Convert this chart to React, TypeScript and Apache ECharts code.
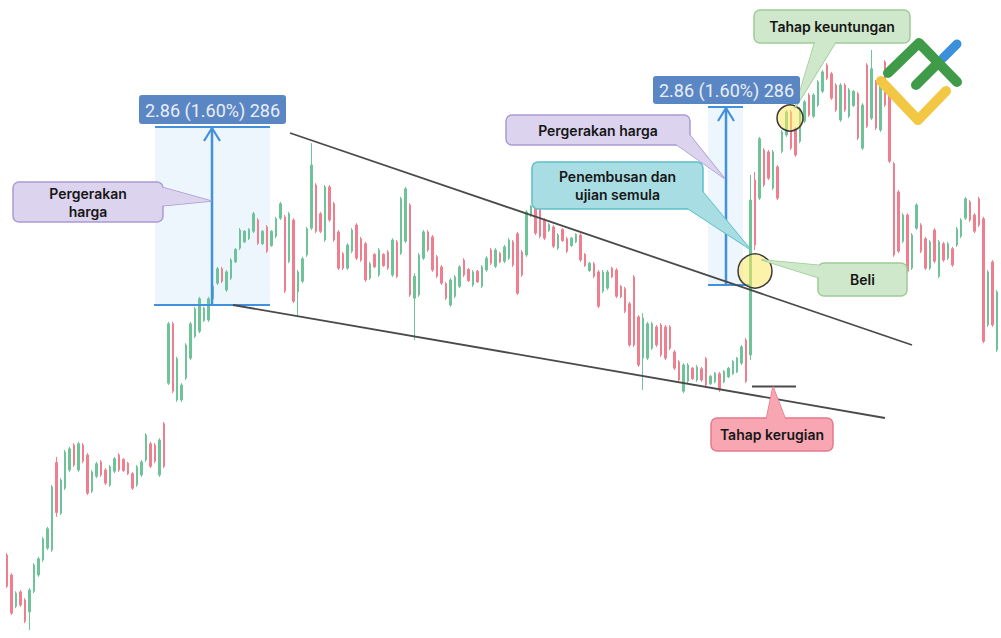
import React, { useEffect, useRef } from "react";
import * as echarts from "echarts";

// [open, close, low, high]
const seg1 = [
  [175.12,174.62,174.59,175.15],[174.80,174.19,174.16,174.83],[174.30,174.51,174.27,174.54],[174.53,174.32,174.29,174.56],
  [174.40,174.06,174.03,174.43],[174.21,174.56,173.92,174.59],[174.54,174.96,174.51,174.99],[174.80,175.06,174.77,175.09],
  [175.04,175.38,175.01,175.41],[175.23,175.54,175.20,175.57],[175.20,176.21,175.17,176.24],[176.60,175.80,175.73,176.69],
  [175.79,176.32,175.76,176.35],[176.19,176.77,176.16,176.80],[176.48,176.82,176.45,176.85],[176.88,176.56,176.53,176.91],
  [176.48,176.90,176.45,176.93],[176.88,176.62,176.59,176.91],[176.72,176.11,176.08,176.75],[176.14,176.45,176.11,176.48],
  [176.38,176.58,176.35,176.61],[176.61,176.40,176.37,176.64],[176.48,176.27,176.24,176.51],[176.24,176.53,176.21,176.56],
  [176.46,176.66,176.43,176.69],[176.72,176.48,176.45,176.75],[176.65,176.47,176.45,176.67],[176.59,176.42,176.40,176.61],
  [176.42,176.19,176.16,176.45],[176.24,176.53,176.21,176.56],[176.40,176.61,176.37,176.64],[176.64,177.04,176.61,177.07],
  [176.90,176.54,176.51,176.93],[176.88,176.62,176.59,176.91],[176.40,176.96,176.37,176.99],[177.22,176.54,176.51,177.25],
];
const seg2 = [
  [177.87,178.82,177.84,178.85],[178.82,177.74,177.71,178.85],[177.60,178.26,177.57,178.29],[177.60,177.84,177.57,177.87],
  [177.95,178.48,177.92,178.51],[178.27,178.82,178.24,178.85],[178.62,179.06,178.59,179.09],[178.70,179.22,178.67,179.25],
  [178.87,179.07,178.85,179.09],[178.88,179.22,178.85,179.25],[179.22,179.42,179.20,179.44],[179.47,179.70,179.44,179.73],
  [179.70,179.50,179.47,179.73],[179.36,179.65,179.33,179.68],[179.55,179.84,179.52,179.87],[179.81,180.01,179.79,180.03],
  [180.03,180.32,180.00,180.35],[180.13,180.30,180.11,180.32],[180.18,180.33,180.16,180.35],[180.30,180.58,180.27,180.61],
  [180.48,180.11,180.08,180.51],[180.10,180.30,180.08,180.32],[180.37,179.98,179.95,180.40],[180.07,180.30,180.05,180.32],
  [180.22,180.50,180.19,180.53],[180.51,180.74,180.48,180.77],[180.53,179.34,179.31,180.56],[179.82,180.58,179.79,180.61],
  [180.48,179.18,179.15,180.51],[179.33,179.65,178.93,179.68],[179.50,179.86,179.47,179.89],[179.92,180.34,179.89,180.37],
  [180.35,181.36,180.32,181.71],[181.04,180.30,180.27,181.07],[180.58,180.30,180.27,180.61],[180.16,181.01,180.13,181.04],
];
const seg3 = [
  [181.01,180.48,180.45,181.04],[180.74,180.16,180.13,180.77],[180.29,179.71,179.68,180.32],[179.94,179.71,179.68,179.97],
  [179.71,180.08,179.68,180.11],[179.98,180.32,179.95,180.35],[180.40,179.87,179.84,180.43],[180.18,179.84,179.81,180.21],
  [180.10,179.52,179.49,180.13],[179.55,179.78,179.52,179.81],[179.93,179.73,179.71,179.95],[179.60,180.00,179.57,180.03],
  [179.93,179.75,179.73,179.95],[179.97,179.71,179.68,180.00],[179.60,180.16,179.57,180.19],[180.13,179.58,179.55,180.16],
  [179.95,180.82,179.92,180.85],[180.14,180.98,180.11,181.01],[180.72,179.28,179.25,180.75],[179.23,179.58,178.56,179.63],
  [179.28,179.92,179.25,179.95],[179.87,180.29,179.84,180.32],[180.29,180.00,179.97,180.32],[180.21,179.68,179.65,180.24],
  [179.89,179.58,179.55,179.92],[179.73,179.47,179.44,179.76],[179.46,179.23,179.20,179.49],[179.12,179.52,179.09,179.55],
  [179.26,179.57,179.23,179.60],[179.42,179.73,179.39,179.76],[179.84,179.60,179.57,179.87],[179.69,179.51,179.49,179.71],
  [179.44,179.65,179.41,179.68],[179.66,179.49,179.47,179.68],[179.42,179.73,179.39,179.76],[179.68,179.87,179.65,179.90],
  [180.00,179.79,179.76,180.03],[179.74,180.00,179.71,180.03],
];
const seg4 = [
  [179.95,179.81,179.79,179.97],[179.82,180.05,179.79,180.08],[179.87,180.16,179.84,180.19],[180.13,179.76,179.73,180.16],
  [180.26,179.31,179.28,180.29],[179.97,179.60,179.57,180.00],[179.92,180.61,179.89,180.64],[180.55,180.70,180.53,180.72],
  [180.69,180.27,180.24,180.72],[180.64,180.22,180.19,180.67],[180.48,180.19,180.16,180.51],[180.31,180.41,180.29,180.43],
  [180.37,180.06,180.03,180.40],[180.03,180.24,180.00,180.27],[180.33,180.15,180.13,180.35],[180.18,179.98,179.95,180.21],
  [180.07,180.19,180.05,180.21],[180.13,180.25,180.11,180.27],[180.24,179.84,179.81,180.27],[179.93,179.75,179.73,179.95],
  [179.67,179.79,179.65,179.81],[179.78,179.58,179.55,179.81],[179.65,179.10,179.07,179.68],[179.34,179.65,179.31,179.68],
  [179.39,179.65,179.36,179.68],[179.71,179.57,179.55,179.73],[179.68,179.26,179.23,179.71],[179.42,179.25,179.23,179.44],
  [179.38,179.02,178.99,179.41],[179.14,178.48,178.45,179.17],[179.57,178.48,178.45,179.60],[178.93,178.16,178.13,178.96],
  [178.27,178.91,177.76,178.99],[178.27,178.82,178.24,178.85],[178.43,178.82,178.40,178.85],[178.77,178.48,178.45,178.80],
  [178.80,178.32,178.29,178.83],[178.77,178.27,178.24,178.80],
];
const seg5 = [
  [178.77,178.43,178.40,178.80],[178.37,178.11,178.08,178.40],[178.21,177.92,177.89,178.24],[177.74,178.16,177.71,178.19],
  [177.90,178.16,177.87,178.19],[178.11,177.94,177.92,178.13],[177.92,178.13,177.89,178.16],[178.10,177.92,177.89,178.13],
  [178.26,177.84,177.81,178.29],[177.86,177.98,177.84,178.00],[177.89,178.03,177.87,178.05],[178.02,177.76,177.73,178.05],
  [177.89,178.06,177.87,178.08],[177.97,178.11,177.95,178.13],[178.02,178.22,178.00,178.24],[178.05,178.27,178.03,178.29],
  [178.19,178.45,178.16,178.48],[178.56,177.90,177.87,178.59],[178.32,180.80,178.24,181.20],[181.12,180.08,180.00,181.25],
  [180.83,181.78,180.80,181.81],[181.60,181.04,181.01,181.63],[181.57,181.15,181.12,181.60],[180.99,181.57,180.96,181.60],
  [181.33,180.83,180.80,181.36],[181.58,181.89,181.55,181.92],[181.84,182.21,181.81,182.24],[182.21,181.63,181.60,182.24],
  [181.94,181.52,181.49,181.97],[181.74,182.26,181.71,182.29],[182.06,182.37,182.03,182.40],[182.48,182.16,182.13,182.51],
  [182.14,182.48,182.11,182.51],[182.32,182.69,182.29,182.72],[182.54,182.85,182.51,182.88],[182.96,182.75,182.72,182.99],
  [182.82,182.43,182.40,182.85],[182.64,182.24,182.21,182.67],
];
const seg6 = [
  [182.08,182.64,182.05,182.67],[182.64,182.24,182.21,182.67],[182.14,182.56,182.11,182.59],[182.31,182.54,182.29,182.56],
  [182.50,181.79,181.76,182.53],[181.63,182.32,181.60,182.35],[182.96,181.98,181.95,182.99],[182.11,182.90,182.08,183.20],
  [182.69,181.95,181.92,182.72],[181.92,182.69,181.89,182.72],[183.01,182.32,182.29,183.04],[182.53,181.42,181.39,182.56],
  [181.38,179.92,179.89,181.41],[180.93,179.98,179.95,180.96],[180.14,180.56,180.11,180.59],[180.56,179.66,179.63,180.59],
  [179.71,180.24,179.68,180.27],[180.35,180.72,180.32,180.75],[180.40,179.98,179.95,180.43],[180.18,179.71,179.68,180.21],
  [179.71,180.13,179.68,180.16],[180.32,179.82,179.79,180.35],[179.58,180.13,179.55,180.16],[180.10,179.84,179.81,180.13],
  [179.87,180.10,179.84,180.13],[180.02,179.76,179.73,180.05],[180.08,180.34,180.05,180.37],[180.22,180.48,180.19,180.51],
  [180.51,180.82,180.48,180.85],[180.77,180.48,180.45,180.80],[180.56,180.30,180.27,180.59],[180.82,180.40,180.37,180.85],
  [180.50,178.54,178.51,180.53],[178.80,179.65,178.77,179.68],[179.81,178.80,178.77,179.84],[178.40,179.33,178.37,179.36],
];

const candles = [...seg1, ...seg2, ...seg3, ...seg4, ...seg5, ...seg6];
const categories = candles.map((_, i) => `B${i + 1}`);

const PRICE_MIN = 173.792;
const PRICE_MAX = 184;

const measureLabel = "2.86 (1.60%) 286";
const txtMoveLeft = ["Pergerakan", "harga"];
const txtMoveRight = ["Pergerakan harga"];
const txtBreak = ["Penembusan dan", "ujian semula"];
const txtBuy = ["Beli"];
const txtProfit = ["Tahap keuntungan"];
const txtLoss = ["Tahap kerugian"];

const FONT = "Inter, 'Noto Sans', sans-serif";

function callout(
  x: number, y: number, w: number, h: number,
  pointer: number[][], fill: string, stroke: string, lines: string[],
) {
  return [
    { type: "rect", z: 100, shape: { x, y, width: w, height: h, r: 6 }, style: { fill, stroke, lineWidth: 1.5 } },
    { type: "polygon", z: 101, shape: { points: pointer }, style: { fill, stroke, lineWidth: 1.5, lineJoin: "round" } },
    { type: "rect", z: 102, shape: { x: x + 1, y: y + 1, width: w - 2, height: h - 2, r: 5 }, style: { fill } },
    { type: "polygon", z: 103, shape: { points: pointer }, style: { fill } },
    {
      type: "text", z: 104, x: x + w / 2, y: y + h / 2,
      style: {
        text: lines.join("\n"), fill: "#161616", fontSize: 14, fontWeight: 600, fontFamily: FONT,
        align: "center", verticalAlign: "middle", textAlign: "center", textVerticalAlign: "middle", lineHeight: 18,
      },
    },
  ];
}

function measureBox(x: number, y: number, w: number, h: number) {
  return [
    { type: "rect", z: 104, shape: { x, y, width: w, height: h, r: 3 }, style: { fill: "#5b86c4" } },
    {
      type: "text", z: 105, x: x + w / 2, y: y + h / 2 + 0.5,
      style: {
        text: measureLabel, fill: "#e9eef7", fontSize: 18, fontFamily: "Roboto, 'Liberation Sans', sans-serif",
        align: "center", verticalAlign: "middle", textAlign: "center", textVerticalAlign: "middle",
      },
    },
  ];
}

const BLUE = "#4390dc";
const TREND = "#4a4a4a";

const graphics: any[] = [
  // measurement areas
  { type: "rect", z: 0, shape: { x: 155, y: 127, width: 115, height: 178 }, style: { fill: "#edf5fd" } },
  { type: "rect", z: 0, shape: { x: 708, y: 107, width: 35, height: 178 }, style: { fill: "#edf5fd" } },
  { type: "line", z: 10, shape: { x1: 155, y1: 127, x2: 270, y2: 127 }, style: { stroke: BLUE, lineWidth: 2 } },
  { type: "line", z: 10, shape: { x1: 154, y1: 305, x2: 270, y2: 305 }, style: { stroke: BLUE, lineWidth: 2 } },
  { type: "line", z: 10, shape: { x1: 212, y1: 305, x2: 212, y2: 128 }, style: { stroke: BLUE, lineWidth: 2.5 } },
  { type: "polyline", z: 10, shape: { points: [[204, 141], [212, 128], [220, 141]] }, style: { stroke: BLUE, lineWidth: 2.2, fill: null } },
  { type: "line", z: 10, shape: { x1: 708, y1: 107, x2: 743, y2: 107 }, style: { stroke: BLUE, lineWidth: 2 } },
  { type: "line", z: 10, shape: { x1: 708, y1: 285, x2: 750, y2: 285 }, style: { stroke: BLUE, lineWidth: 2 } },
  { type: "line", z: 10, shape: { x1: 726, y1: 285, x2: 726, y2: 108 }, style: { stroke: BLUE, lineWidth: 2.5 } },
  { type: "polyline", z: 10, shape: { points: [[718, 121], [726, 108], [734, 121]] }, style: { stroke: BLUE, lineWidth: 2.2, fill: null } },
  // trend lines
  { type: "line", z: 20, shape: { x1: 290, y1: 133, x2: 912, y2: 345 }, style: { stroke: TREND, lineWidth: 1.8 } },
  { type: "line", z: 20, shape: { x1: 233, y1: 305, x2: 885, y2: 418 }, style: { stroke: TREND, lineWidth: 1.8 } },
  { type: "line", z: 20, shape: { x1: 752, y1: 386.5, x2: 796, y2: 386.5 }, style: { stroke: TREND, lineWidth: 1.8 } },
  // circles
  { type: "circle", z: 30, shape: { cx: 755, cy: 271, r: 17 }, style: { fill: "rgba(250,232,100,0.55)", stroke: "#3a3a3a", lineWidth: 1.5 } },
  { type: "circle", z: 30, shape: { cx: 790, cy: 118, r: 13 }, style: { fill: "rgba(250,232,100,0.55)", stroke: "#3a3a3a", lineWidth: 1.5 } },
  // callouts
  ...callout(13, 182, 150, 40, [[150, 184], [211, 201], [150, 207]], "#dcd3ef", "#ab9bd3", txtMoveLeft),
  ...callout(506, 115, 184, 30, [[670, 140], [724, 178], [684, 128]], "#dcd3ef", "#ab9bd3", txtMoveRight),
  ...callout(532, 162, 171, 47, [[678, 202], [750, 249], [697, 185]], "#a8dde3", "#5cbfc9", txtBreak),
  ...callout(818, 263, 89, 33, [[826, 266], [762, 260], [826, 280]], "#cfe7cb", "#9ccd95", txtBuy),
  ...callout(754, 10, 156, 33, [[817, 35], [795, 108], [840, 35]], "#cfe7cb", "#9ccd95", txtProfit),
  ...callout(711, 418, 122, 33, [[765, 426], [773, 387], [788, 426]], "#f7a6b2", "#e47a8c", txtLoss),
  ...measureBox(139, 95, 147, 29),
  ...measureBox(653, 76, 147, 28),
  // logo
  { type: "polyline", z: 110, shape: { points: [[881, 81], [918, 120], [946, 91]] }, style: { stroke: "#f2c744", lineWidth: 10, lineCap: "round", lineJoin: "round", fill: null } },
  { type: "polyline", z: 111, shape: { points: [[888, 73], [919, 43], [957, 82]] }, style: { stroke: "#3f9b47", lineWidth: 10, lineCap: "round", lineJoin: "round", fill: null } },
  { type: "line", z: 111, shape: { x1: 916, y1: 85, x2: 938, y2: 63 }, style: { stroke: "#3f9b47", lineWidth: 10, lineCap: "round" } },
  { type: "line", z: 110, shape: { x1: 943, y1: 58, x2: 957, y2: 44 }, style: { stroke: "#3b8fdb", lineWidth: 9, lineCap: "round" } },
];

export default function App() {
  const ref = useRef<HTMLDivElement>(null);
  useEffect(() => {
    const chart = echarts.init(ref.current!, undefined, { renderer: "svg" });
    chart.setOption({
      animation: false,
      backgroundColor: "#ffffff",
      grid: { left: 4.76, top: 0, width: 994.56, height: 638 },
      xAxis: { type: "category", data: categories, show: false, boundaryGap: true },
      yAxis: { type: "value", min: PRICE_MIN, max: PRICE_MAX, show: false },
      series: [
        {
          type: "candlestick",
          data: candles,
          barWidth: 2,
          z: 2,
          itemStyle: {
            color: "#6fc398",
            color0: "#ef7f8e",
            borderColor: "#6fc398",
            borderColor0: "#ef7f8e",
            borderWidth: 1,
          },
        },
      ],
      graphic: graphics,
    });
    return () => chart.dispose();
  }, []);
  return (
    <div
      ref={ref}
      style={{ position: "absolute", left: 0, top: 0, width: 1001, height: 638, background: "#fff" }}
    />
  );
}
